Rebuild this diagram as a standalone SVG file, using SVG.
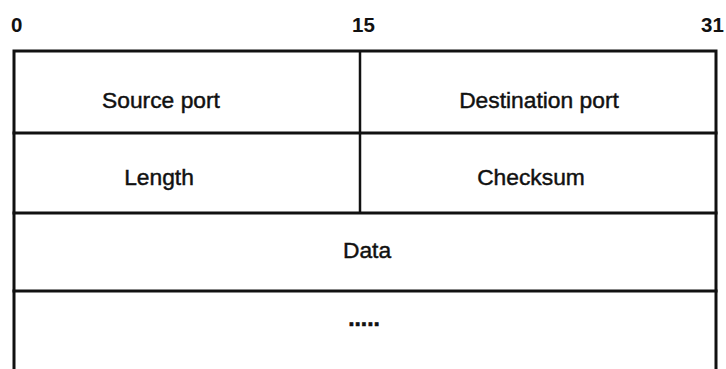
<svg xmlns="http://www.w3.org/2000/svg" width="726" height="369" viewBox="0 0 726 369">
  <style>
    .frame { fill: none; stroke: #111; stroke-width: 3; stroke-linecap: square; }
    .divider { stroke: #111; stroke-width: 2.5; }
    .bit { font-family: "Liberation Sans", Arial, sans-serif; font-size: 20.5px; font-weight: bold; fill: #111; }
    .field { font-family: "Liberation Sans", Arial, sans-serif; font-size: 22.8px; fill: #111; stroke: #111; stroke-width: 0.45; text-anchor: middle; }
    .dots { font-weight: bold; stroke-width: 0.6; }
  </style>
  <rect width="726" height="369" fill="#fff"/>

  <!-- bit position scale -->
  <g id="bit-scale">
    <text class="bit" x="11" y="32">0</text>
    <text class="bit" x="352" y="32">15</text>
    <text class="bit" x="701" y="32">31</text>
  </g>

  <!-- header outline and row separators -->
  <g id="frame">
    <path class="frame" d="M14,369 V51 H716 V369"/>
    <line class="frame" x1="14" y1="133" x2="716" y2="133"/>
    <line class="frame" x1="14" y1="213" x2="716" y2="213"/>
    <line class="frame" x1="14" y1="291" x2="716" y2="291"/>
    <line class="divider" x1="360" y1="51" x2="360" y2="213"/>
  </g>

  <g id="source-port">
    <text class="field" x="161" y="108">Source port</text>
  </g>
  <g id="destination-port">
    <text class="field" x="539" y="108">Destination port</text>
  </g>
  <g id="length">
    <text class="field" x="159" y="185">Length</text>
  </g>
  <g id="checksum">
    <text class="field" x="531" y="185">Checksum</text>
  </g>
  <g id="data">
    <text class="field" x="367" y="258">Data</text>
  </g>
  <g id="continuation">
    <text class="field dots" x="364" y="326">.....</text>
  </g>
</svg>
